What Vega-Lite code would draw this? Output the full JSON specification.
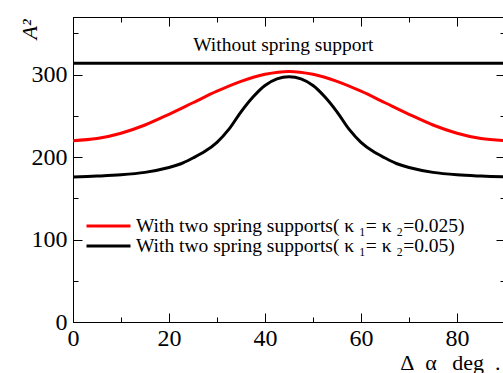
{
  "$schema": "https://vega.github.io/schema/vega-lite/v6.json",
  "width": 432,
  "height": 305,
  "autosize": "none",
  "padding": {"left": 73, "top": 17, "right": 0, "bottom": 51},
  "background": "white",
  "config": {
    "view": {"stroke": "black", "strokeWidth": 1},
    "axis": {
      "grid": false,
      "domainColor": "black",
      "domainWidth": 1,
      "tickColor": "black",
      "tickWidth": 1,
      "labelFont": "Liberation Serif",
      "labelFontSize": 24,
      "labelColor": "black",
      "titleFont": "Liberation Serif",
      "titleColor": "black",
      "titleFontWeight": "normal"
    },
    "legend": {
      "labelFont": "Liberation Serif",
      "labelFontSize": 19.5,
      "labelColor": "black"
    }
  },
  "datasets": {
    "curves": [
      {"x": 0, "y": 220, "s": "With two spring supports( κ ₁= κ ₂=0.025)"},
      {"x": 5, "y": 222.5, "s": "With two spring supports( κ ₁= κ ₂=0.025)"},
      {"x": 10, "y": 229, "s": "With two spring supports( κ ₁= κ ₂=0.025)"},
      {"x": 15, "y": 239, "s": "With two spring supports( κ ₁= κ ₂=0.025)"},
      {"x": 20, "y": 252, "s": "With two spring supports( κ ₁= κ ₂=0.025)"},
      {"x": 25, "y": 266, "s": "With two spring supports( κ ₁= κ ₂=0.025)"},
      {"x": 30, "y": 280, "s": "With two spring supports( κ ₁= κ ₂=0.025)"},
      {"x": 35, "y": 292, "s": "With two spring supports( κ ₁= κ ₂=0.025)"},
      {"x": 40, "y": 300.5, "s": "With two spring supports( κ ₁= κ ₂=0.025)"},
      {"x": 45, "y": 304, "s": "With two spring supports( κ ₁= κ ₂=0.025)"},
      {"x": 50, "y": 300.5, "s": "With two spring supports( κ ₁= κ ₂=0.025)"},
      {"x": 55, "y": 292, "s": "With two spring supports( κ ₁= κ ₂=0.025)"},
      {"x": 60, "y": 280, "s": "With two spring supports( κ ₁= κ ₂=0.025)"},
      {"x": 65, "y": 266, "s": "With two spring supports( κ ₁= κ ₂=0.025)"},
      {"x": 70, "y": 252, "s": "With two spring supports( κ ₁= κ ₂=0.025)"},
      {"x": 75, "y": 239, "s": "With two spring supports( κ ₁= κ ₂=0.025)"},
      {"x": 80, "y": 229, "s": "With two spring supports( κ ₁= κ ₂=0.025)"},
      {"x": 85, "y": 222.5, "s": "With two spring supports( κ ₁= κ ₂=0.025)"},
      {"x": 90, "y": 220, "s": "With two spring supports( κ ₁= κ ₂=0.025)"},
      {"x": 0, "y": 176, "s": "With two spring supports( κ ₁= κ ₂=0.05)"},
      {"x": 5, "y": 177, "s": "With two spring supports( κ ₁= κ ₂=0.05)"},
      {"x": 10, "y": 178.5, "s": "With two spring supports( κ ₁= κ ₂=0.05)"},
      {"x": 15, "y": 181.5, "s": "With two spring supports( κ ₁= κ ₂=0.05)"},
      {"x": 20, "y": 187.5, "s": "With two spring supports( κ ₁= κ ₂=0.05)"},
      {"x": 22.5, "y": 192, "s": "With two spring supports( κ ₁= κ ₂=0.05)"},
      {"x": 25, "y": 199, "s": "With two spring supports( κ ₁= κ ₂=0.05)"},
      {"x": 27.5, "y": 207, "s": "With two spring supports( κ ₁= κ ₂=0.05)"},
      {"x": 30, "y": 218, "s": "With two spring supports( κ ₁= κ ₂=0.05)"},
      {"x": 32.5, "y": 234, "s": "With two spring supports( κ ₁= κ ₂=0.05)"},
      {"x": 35, "y": 255, "s": "With two spring supports( κ ₁= κ ₂=0.05)"},
      {"x": 37.5, "y": 273, "s": "With two spring supports( κ ₁= κ ₂=0.05)"},
      {"x": 40, "y": 287, "s": "With two spring supports( κ ₁= κ ₂=0.05)"},
      {"x": 42.5, "y": 295, "s": "With two spring supports( κ ₁= κ ₂=0.05)"},
      {"x": 45, "y": 297.5, "s": "With two spring supports( κ ₁= κ ₂=0.05)"},
      {"x": 47.5, "y": 295, "s": "With two spring supports( κ ₁= κ ₂=0.05)"},
      {"x": 50, "y": 287, "s": "With two spring supports( κ ₁= κ ₂=0.05)"},
      {"x": 52.5, "y": 273, "s": "With two spring supports( κ ₁= κ ₂=0.05)"},
      {"x": 55, "y": 255, "s": "With two spring supports( κ ₁= κ ₂=0.05)"},
      {"x": 57.5, "y": 234, "s": "With two spring supports( κ ₁= κ ₂=0.05)"},
      {"x": 60, "y": 218, "s": "With two spring supports( κ ₁= κ ₂=0.05)"},
      {"x": 62.5, "y": 207, "s": "With two spring supports( κ ₁= κ ₂=0.05)"},
      {"x": 65, "y": 199, "s": "With two spring supports( κ ₁= κ ₂=0.05)"},
      {"x": 67.5, "y": 192, "s": "With two spring supports( κ ₁= κ ₂=0.05)"},
      {"x": 70, "y": 187.5, "s": "With two spring supports( κ ₁= κ ₂=0.05)"},
      {"x": 75, "y": 181.5, "s": "With two spring supports( κ ₁= κ ₂=0.05)"},
      {"x": 80, "y": 178.5, "s": "With two spring supports( κ ₁= κ ₂=0.05)"},
      {"x": 85, "y": 177, "s": "With two spring supports( κ ₁= κ ₂=0.05)"},
      {"x": 90, "y": 176, "s": "With two spring supports( κ ₁= κ ₂=0.05)"}
    ],
    "without": [
      {"x": 0, "y": 314},
      {"x": 90, "y": 314}
    ],
    "label": [
      {"x": 43.8, "y": 336, "t": "Without spring support"}
    ]
  },
  "layer": [
    {
      "data": {"name": "label"},
      "mark": {"type": "text", "font": "Liberation Serif", "fontSize": 19.5, "color": "black", "align": "center", "baseline": "middle"},
      "encoding": {
        "x": {"field": "x", "type": "quantitative", "scale": {"domain": [0, 90], "nice": false, "zero": false}, "axis": null},
        "y": {"field": "y", "type": "quantitative", "scale": {"domain": [0, 370], "nice": false, "zero": false}, "axis": null},
        "text": {"field": "t"}
      }
    },
    {
      "data": {"name": "curves"},
      "mark": {"type": "line", "strokeWidth": 3, "interpolate": "catmull-rom"},
      "encoding": {
        "x": {
          "field": "x", "type": "quantitative",
          "axis": {
            "orient": "bottom",
            "values": [0, 10, 20, 30, 40, 50, 60, 70, 80, 90],
            "labelExpr": "datum.value % 20 === 0 ? datum.label : ''",
            "tickSize": -9,
            "tickDash": {"condition": {"test": "datum.value % 20 === 0", "value": [9, 0]}, "value": [5, 20]},
            "labelPadding": 13,
            "labelFlush": false,
            "labelOverlap": false,
            "title": "Δ\u2002α\u2002\u2009deg\u2002.",
            "titleFontSize": 22,
            "titleAnchor": "end",
            "titleAlign": "right",
            "titleBaseline": "alphabetic",
            "titleX": 427,
            "titleY": 47
          }
        },
        "y": {
          "field": "y", "type": "quantitative",
          "axis": {
            "orient": "left",
            "values": [0, 50, 100, 150, 200, 250, 300, 350],
            "labelExpr": "datum.value % 100 === 0 ? datum.label : ''",
            "tickSize": -9,
            "tickDash": {"condition": {"test": "datum.value % 100 === 0", "value": [9, 0]}, "value": [5, 20]},
            "labelPadding": 15,
            "labelFlush": false,
            "labelOverlap": false,
            "title": "A²",
            "titleFontSize": 22,
            "titleFontStyle": "italic",
            "titleAngle": -90,
            "titleAlign": "right",
            "titleBaseline": "alphabetic",
            "titleX": -37,
            "titleY": 2
          }
        },
        "color": {
          "field": "s", "type": "nominal",
          "scale": {
            "domain": ["With two spring supports( κ ₁= κ ₂=0.025)", "With two spring supports( κ ₁= κ ₂=0.05)"],
            "range": ["#ff0000", "#000000"]
          },
          "legend": {
            "title": null,
            "orient": "none",
            "legendX": 12,
            "legendY": 199,
            "symbolType": "stroke",
            "symbolSize": 1936,
            "symbolStrokeWidth": 3,
            "clipHeight": 20,
            "rowPadding": 0,
            "labelOffset": 4,
            "labelLimit": 0,
            "padding": 0
          }
        }
      }
    },
    {
      "data": {"name": "without"},
      "mark": {"type": "line", "strokeWidth": 3, "color": "black"},
      "encoding": {
        "x": {
          "field": "x", "type": "quantitative",
          "axis": {
            "orient": "top",
            "values": [0, 10, 20, 30, 40, 50, 60, 70, 80, 90],
            "labels": false,
            "tickSize": -9,
            "tickDash": {"condition": {"test": "datum.value % 20 === 0", "value": [9, 0]}, "value": [5, 20]},
            "title": null
          }
        },
        "y": {
          "field": "y", "type": "quantitative",
          "axis": {
            "orient": "right",
            "values": [0, 50, 100, 150, 200, 250, 300, 350],
            "labels": false,
            "tickSize": -9,
            "tickDash": {"condition": {"test": "datum.value % 100 === 0", "value": [9, 0]}, "value": [5, 20]},
            "title": null
          }
        }
      }
    }
  ],
  "resolve": {"axis": {"x": "independent", "y": "independent"}}
}
